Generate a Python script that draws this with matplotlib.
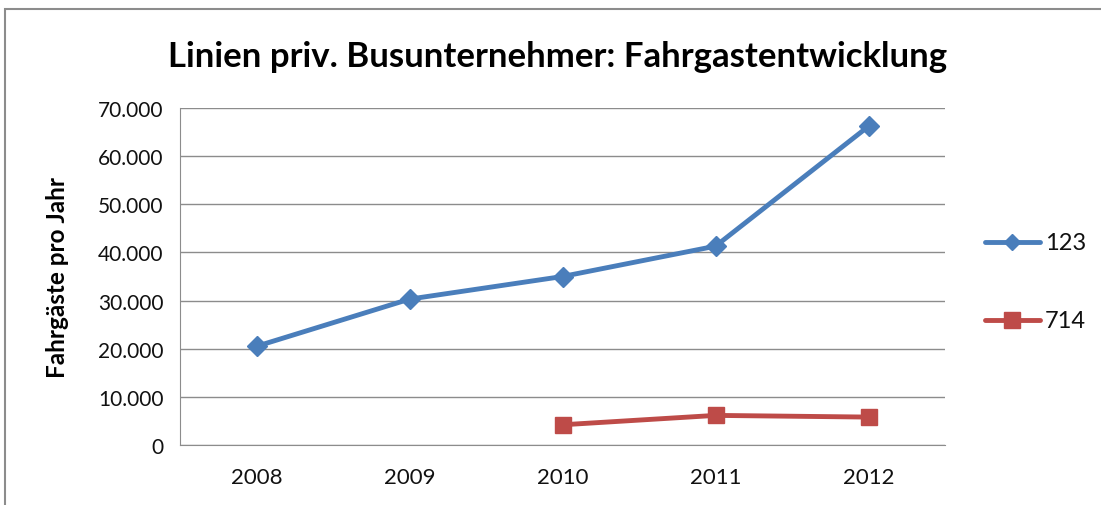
import matplotlib
matplotlib.use("Agg")
import matplotlib.pyplot as plt
from matplotlib.patches import Rectangle
from matplotlib.lines import Line2D
from matplotlib.ticker import FuncFormatter

years = ["2008", "2009", "2010", "2011", "2012"]
line_123 = [20500, 30300, 35000, 41300, 66200]
years_714 = ["2010", "2011", "2012"]
line_714 = [4200, 6150, 5800]
yticks = [0, 10000, 20000, 30000, 40000, 50000, 60000, 70000]
series_names = ["123", "714"]

plt.rcParams['font.family'] = ['Lato', 'DejaVu Sans']

W, H = 1101, 506
fig = plt.figure(figsize=(W/100, H/100), dpi=100)
fig.patches.append(Rectangle((5/W, -0.1), 1.2, (H-10)/H + 0.1,
                             transform=fig.transFigure, fill=False,
                             edgecolor='#8c8c8c', linewidth=1.5))
ax = fig.add_axes([180/W, 60/H, 765/W, 337/H])

blue, red = '#4a7ebb', '#be4b48'
xpos = list(range(len(years)))
x714 = [years.index(y) for y in years_714]
ax.plot(xpos, line_123, color=blue, linewidth=3.5, marker='D',
        markersize=10)
ax.plot(x714, line_714, color=red, linewidth=3.5, marker='s',
        markersize=11)

ax.set_xlim(-0.5, 4.5)
ax.set_ylim(0, 70000)
ax.set_xticks(xpos)
ax.set_xticklabels(years)
ax.set_yticks(yticks)
ax.yaxis.set_major_formatter(FuncFormatter(lambda v, p: '0' if v == 0 else f"{int(v):,}".replace(',', '.')))
ax.grid(axis='y', color='#8c8c8c', linewidth=1)
ax.set_axisbelow(True)
for s in ['top', 'right']:
    ax.spines[s].set_visible(False)
for s in ['left', 'bottom']:
    ax.spines[s].set_color('#8c8c8c')
ax.tick_params(axis='both', length=0, labelcolor='#111111')
ax.tick_params(axis='x', labelsize=16, pad=16)
ax.tick_params(axis='y', labelsize=15, pad=12)
ax.set_ylabel('Fahrgäste pro Jahr', fontsize=17.5, fontweight='bold')
ax.yaxis.set_label_coords((69 - 180) / 765, 0.5)

fig.text(558/W, 1 - 57/H, 'Linien priv. Busunternehmer: Fahrgastentwicklung',
         ha='center', va='center', fontsize=25, fontweight='bold')

# legend drawn in figure pixel coordinates
for name, col, mk, ms, ypix in [(series_names[0], blue, 'D', 8, 243),
                                (series_names[1], red, 's', 11, 321)]:
    yf = 1 - ypix/H
    fig.add_artist(Line2D([985/W, 1040/W], [yf, yf], transform=fig.transFigure,
                          color=col, linewidth=3.5, solid_capstyle='round'))
    fig.add_artist(Line2D([1012/W], [yf], transform=fig.transFigure,
                          color=col, marker=mk, markersize=ms, linestyle='none'))
    fig.text(1045/W, yf, name, ha='left', va='center', fontsize=17, color='#111111')

fig.savefig('out.png', dpi=100)
